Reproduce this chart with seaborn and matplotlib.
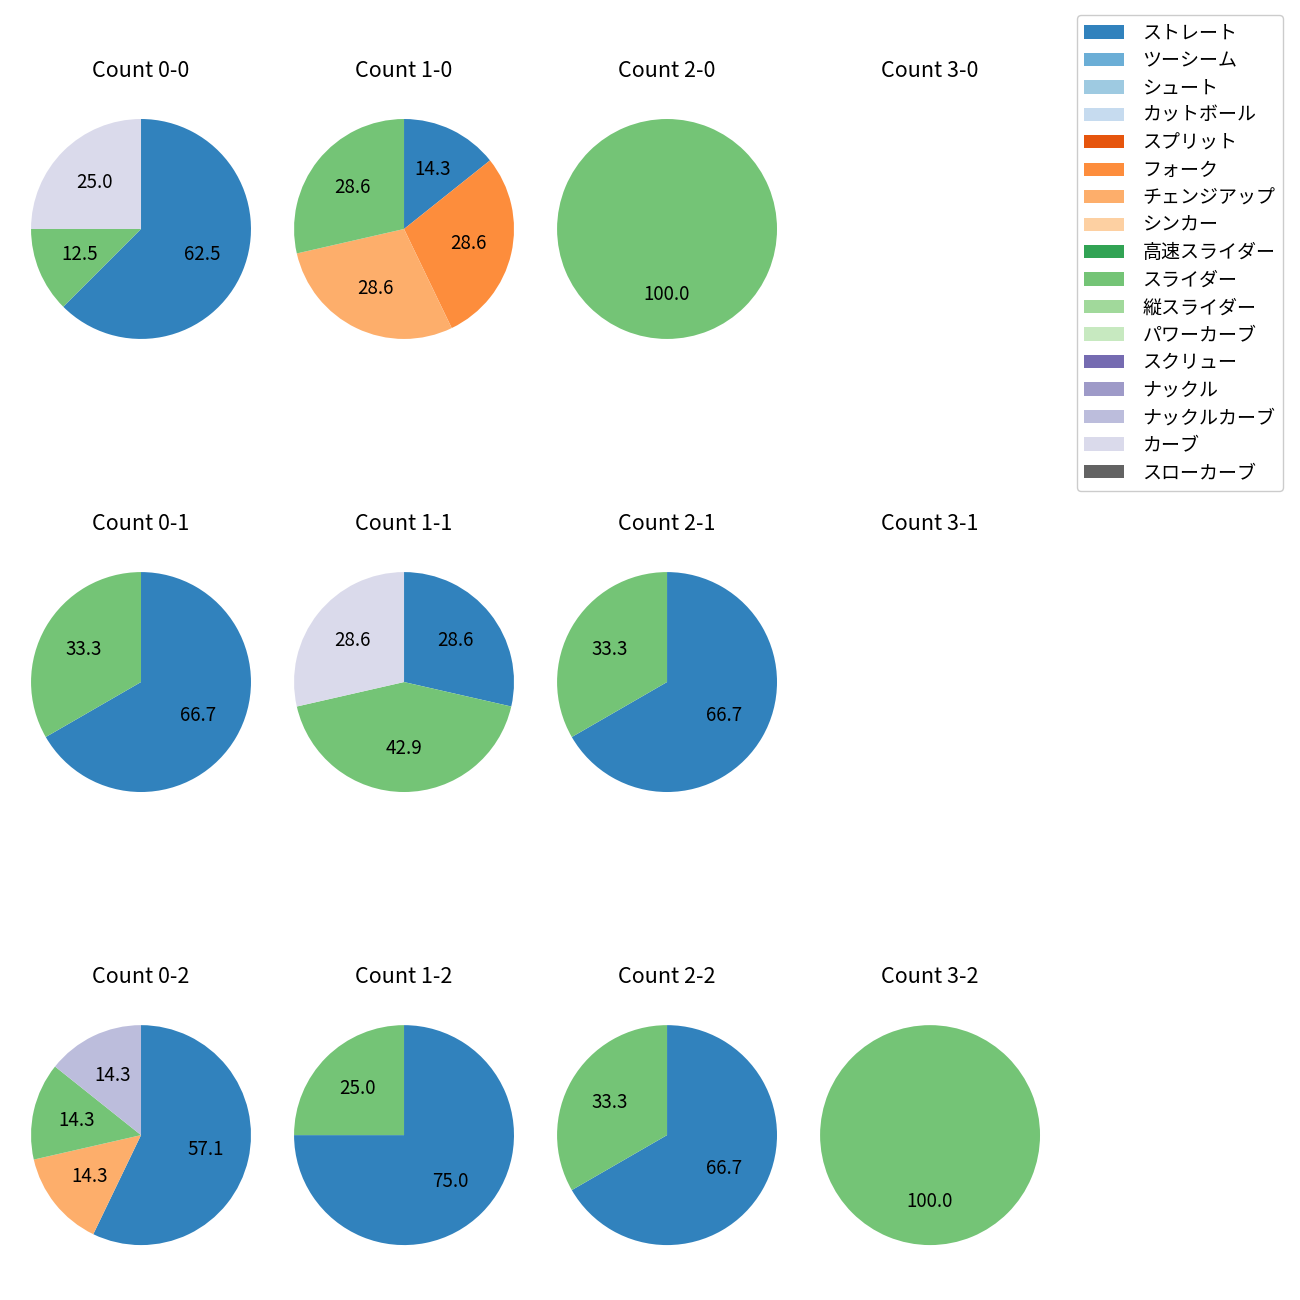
import matplotlib
matplotlib.use("Agg")
import matplotlib.pyplot as plt
from matplotlib.patches import Patch
import seaborn as sns

sns.set_style("white")
plt.rcParams['font.family'] = ['Noto Sans CJK JP', 'DejaVu Sans']
plt.rcParams['text.color'] = 'black'

pitch_types = ["ストレート", "ツーシーム", "シュート", "カットボール", "スプリット", "フォーク",
               "チェンジアップ", "シンカー", "高速スライダー", "スライダー", "縦スライダー",
               "パワーカーブ", "スクリュー", "ナックル", "ナックルカーブ", "カーブ", "スローカーブ"]

# counts per pitch type for each ball-strike count
count_0_0 = {"ストレート": 5, "スライダー": 1, "カーブ": 2}
count_1_0 = {"ストレート": 1, "フォーク": 2, "チェンジアップ": 2, "スライダー": 2}
count_2_0 = {"スライダー": 1}
count_3_0 = {}
count_0_1 = {"ストレート": 2, "スライダー": 1}
count_1_1 = {"ストレート": 2, "スライダー": 3, "カーブ": 2}
count_2_1 = {"ストレート": 2, "スライダー": 1}
count_3_1 = {}
count_0_2 = {"ストレート": 4, "チェンジアップ": 1, "スライダー": 1, "ナックルカーブ": 1}
count_1_2 = {"ストレート": 3, "スライダー": 1}
count_2_2 = {"ストレート": 2, "スライダー": 1}
count_3_2 = {"スライダー": 1}

grid = [
    [("Count 0-0", count_0_0), ("Count 1-0", count_1_0), ("Count 2-0", count_2_0), ("Count 3-0", count_3_0)],
    [("Count 0-1", count_0_1), ("Count 1-1", count_1_1), ("Count 2-1", count_2_1), ("Count 3-1", count_3_1)],
    [("Count 0-2", count_0_2), ("Count 1-2", count_1_2), ("Count 2-2", count_2_2), ("Count 3-2", count_3_2)],
]

palette = sns.color_palette("tab20c", 20)
color_map = dict(zip(pitch_types, palette[:17]))

fig, axes = plt.subplots(3, 4, figsize=(13, 13), dpi=100)
fig.subplots_adjust(left=0.0027, right=0.8212, top=0.9296, bottom=0.0211,
                    wspace=-0.0436, hspace=0.648)

for r, row in enumerate(grid):
    for c, (title, data) in enumerate(row):
        ax = axes[r, c]
        labels = [p for p in pitch_types if p in data]
        vals = [data[p] for p in labels]
        if vals:
            ax.pie(vals, colors=[color_map[p] for p in labels], startangle=90,
                   counterclock=False, autopct="%.1f",
                   wedgeprops={"linewidth": 0, "edgecolor": "none"},
                   textprops={"fontsize": 13.5, "color": "black"})
        else:
            ax.set_xticks([]); ax.set_yticks([])
            for s in ax.spines.values():
                s.set_visible(False)
        ax.set_title(title, fontsize=15.5, pad=10.5, color="black")

handles = [Patch(facecolor=color_map[p], edgecolor="none") for p in pitch_types]
fig.legend(handles, pitch_types, loc="upper right", bbox_to_anchor=(0.987, 0.9885),
           borderaxespad=0, fontsize=13.7, framealpha=1, labelspacing=0.34,
           handlelength=2.1, handletextpad=0.95)

fig.savefig("out.png", dpi=100)
